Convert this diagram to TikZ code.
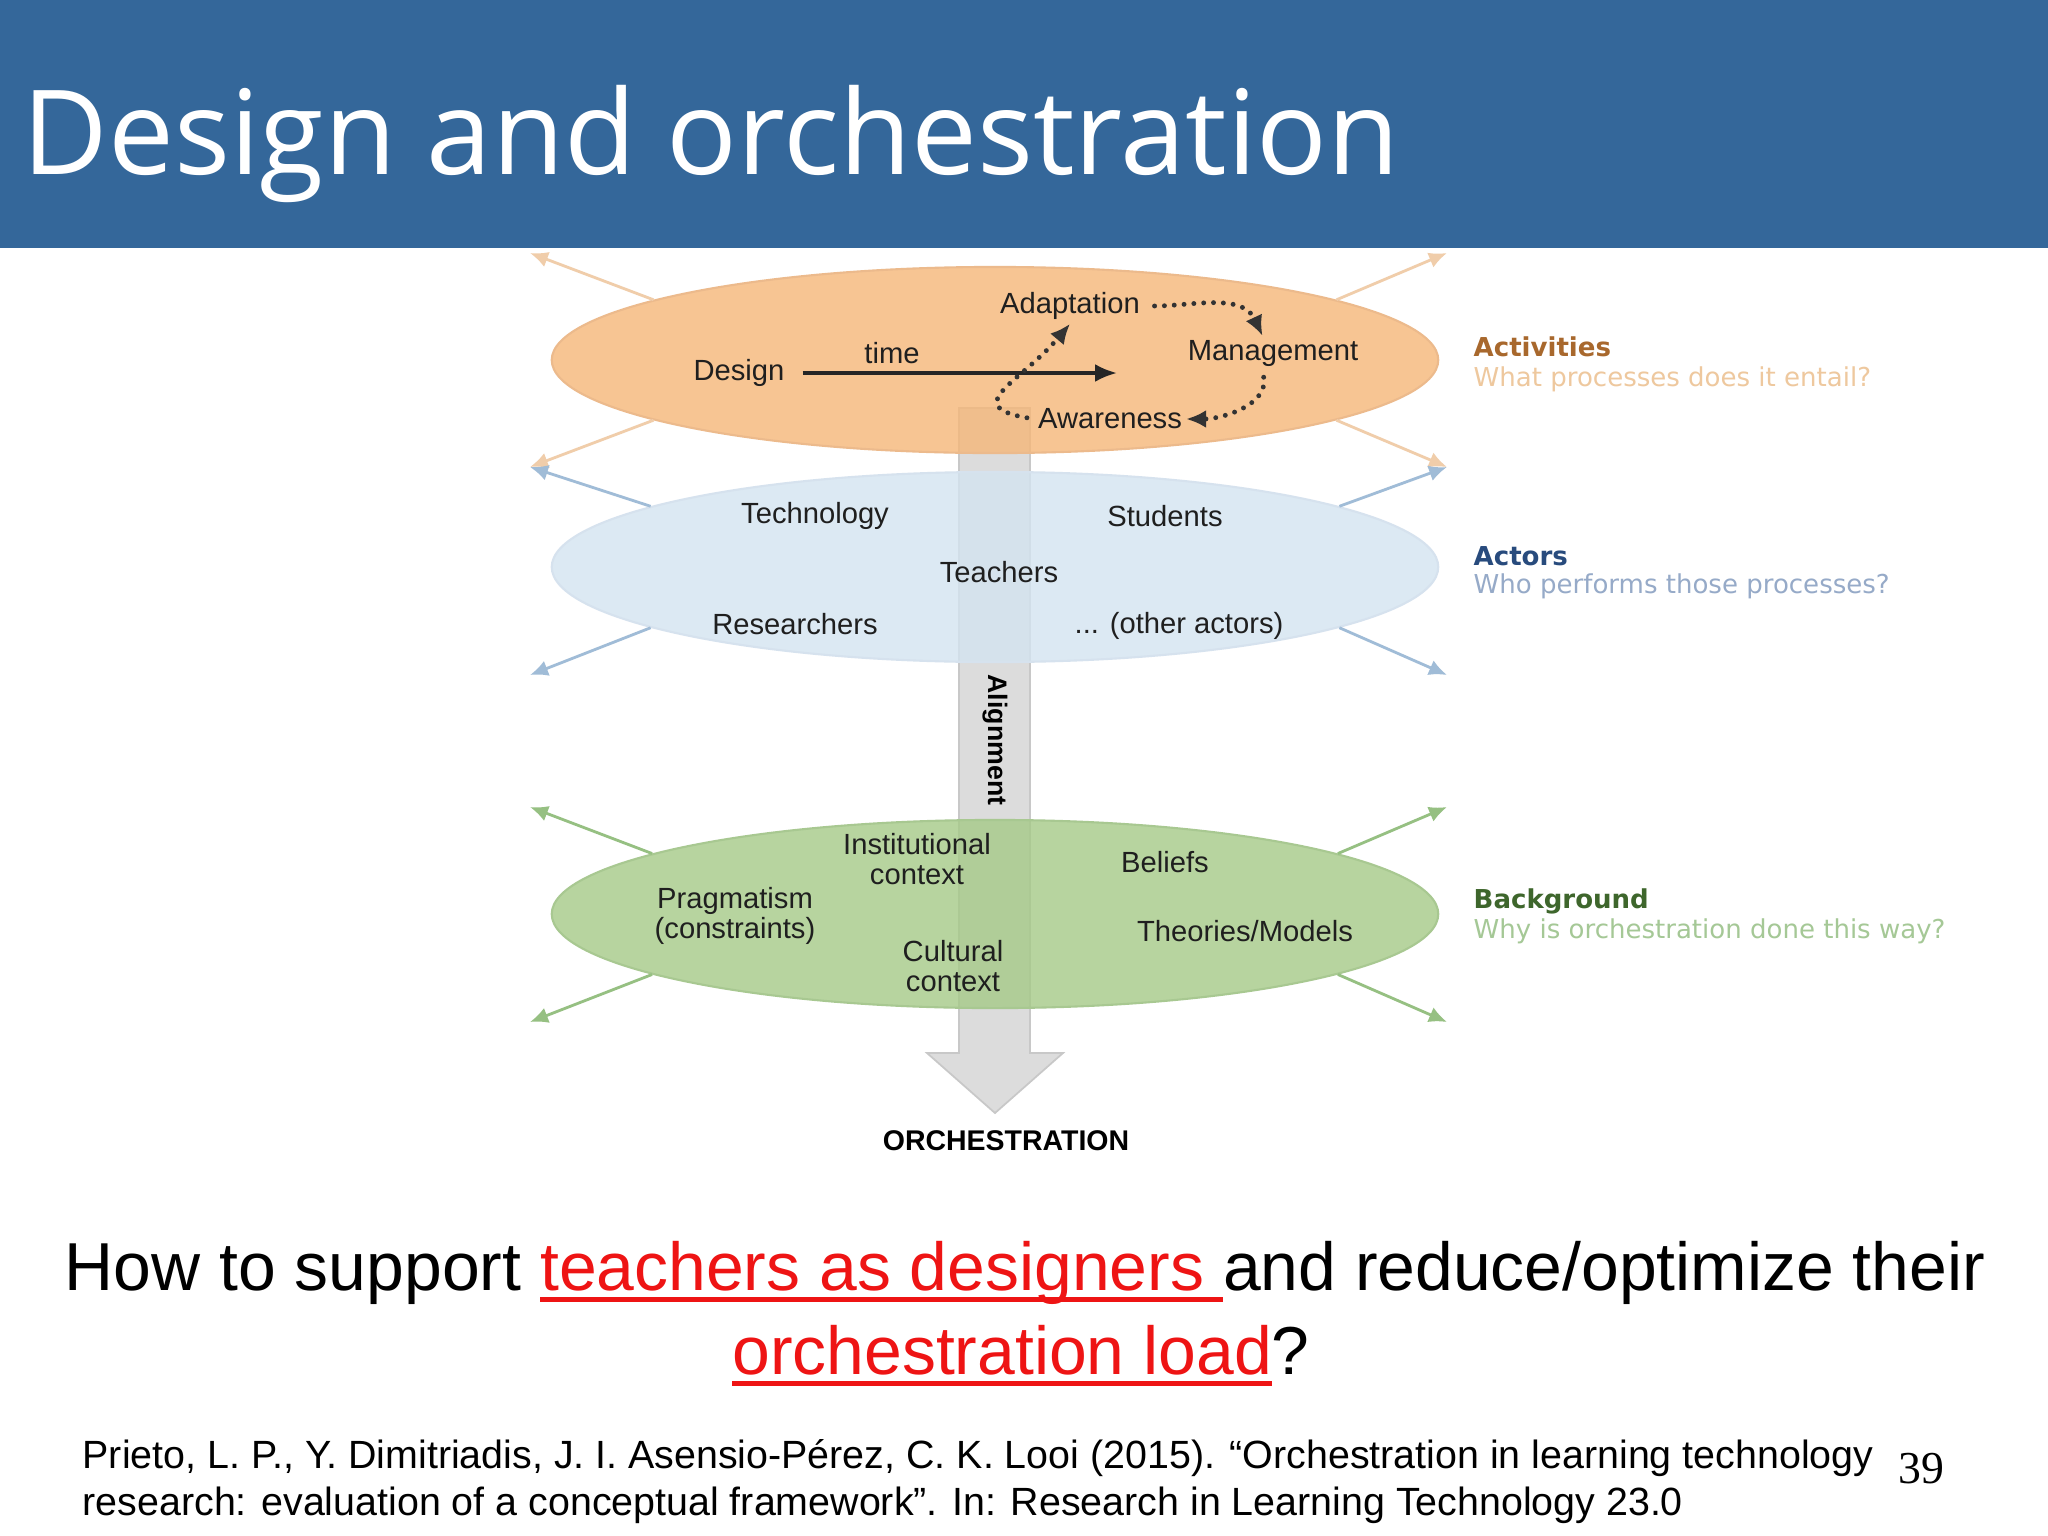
\documentclass[tikz,border=0pt]{standalone}
\usepackage{fontspec}
\setmainfont{Liberation Sans}
\newfontfamily\titlefont{Open Sans}
\newfontfamily\sidefont{DejaVu Sans}
\newfontfamily\numfont{Liberation Serif}
\usetikzlibrary{shapes.geometric, arrows.meta}
\definecolor{barblue}{RGB}{52,103,154}
\definecolor{actfill}{RGB}{245,183,120}
\definecolor{actline}{RGB}{236,186,140}
\definecolor{actarr}{RGB}{240,205,170}
\definecolor{actorfill}{RGB}{212,228,241}
\definecolor{actorline}{RGB}{214,226,238}
\definecolor{actorarr}{RGB}{160,188,215}
\definecolor{bgfill}{RGB}{165,202,136}
\definecolor{bgline}{RGB}{168,200,145}
\definecolor{bgarr}{RGB}{150,192,130}
\definecolor{shaft}{RGB}{220,220,220}
\definecolor{shaftline}{RGB}{200,200,200}
\definecolor{acthead}{RGB}{168,104,45}
\definecolor{actq}{RGB}{238,200,158}
\definecolor{actorhead}{RGB}{40,75,125}
\definecolor{actorq}{RGB}{150,170,200}
\definecolor{bghead}{RGB}{62,102,44}
\definecolor{bgq}{RGB}{165,200,150}
\definecolor{qred}{RGB}{238,20,20}
\newcommand\redul[1]{\setbox0=\hbox{#1}\rlap{\rule[-0.17em]{\wd0}{0.065em}}\box0}
\tikzstyle{layer} = [ellipse, minimum width=8.86cm, inner sep=0pt, line width=0.6pt, fill opacity=0.8]
\tikzstyle{item} = [font=\fontsize{8.3}{8.7}\selectfont, align=center, inner sep=1pt, text=black!88]
\tikzstyle{sidearrow} = [line width=0.8pt, -{Latex[length=1.8mm,width=1.6mm]}]
\tikzstyle{timearrow} = [line width=1pt, draw=black!85, -{Latex[length=2.2mm,width=1.8mm]}]
\tikzstyle{dotarrow} = [line width=1.4pt, draw=black!80, dash pattern=on 0pt off 2.8pt, line cap=round, -{Latex[length=2mm,width=1.8mm]}]
\tikzstyle{sidehead} = [font=\sidefont\bfseries\fontsize{7.4}{9}\selectfont, anchor=west, inner sep=0pt]
\tikzstyle{sideq} = [font=\sidefont\fontsize{7.4}{9}\selectfont, anchor=west, inner sep=0pt]

\begin{document}
\begin{tikzpicture}
[x=0.01cm, y=-0.01cm]

\useasboundingbox (0,0) rectangle (2048,1536);
\fill[white] (0,0) rectangle (2048,1536);
\fill[barblue] (0,0) rectangle (2048,248);
\node (title) [anchor=base west, inner sep=0pt, text=white, font=\titlefont\fontsize{33.4}{40}\selectfont] at (22,174) {Design and orchestration};

% alignment arrow, behind the layers
\filldraw[fill=shaft, draw=shaftline, line width=0.5pt] (959,408) -- (1030,408) -- (1030,1053) -- (1063,1053) -- (995,1113) -- (927,1053) -- (959,1053) -- cycle;

% the three layers
\node (activities) [layer, minimum height=1.86cm, fill=actfill, draw=actline] at (995,360) {};
\node (actors) [layer, minimum height=1.9cm, fill=actorfill, draw=actorline] at (995,567) {};
\node (background) [layer, minimum height=1.88cm, fill=bgfill, draw=bgline] at (995,914) {};

\foreach \lay/\col/\up/\down in {activities/actarr/253/467, actors/actorarr/467/675, background/bgarr/807/1022} {
  \coordinate (\lay-nw) at (530,\up);
  \coordinate (\lay-sw) at (530,\down);
  \coordinate (\lay-ne) at (1447,\up);
  \coordinate (\lay-se) at (1447,\down);
  \draw[sidearrow, \col] (\lay.170) -- (\lay-nw);
  \draw[sidearrow, \col] (\lay.190) -- (\lay-sw);
  \draw[sidearrow, \col] (\lay.10) -- (\lay-ne);
  \draw[sidearrow, \col] (\lay.-10) -- (\lay-se);
}

% activities
\node (adapt) [item] at (1070,306) {Adaptation};
\node (design) [item] at (739,373) {Design};
\node (time) [item] at (892,353) {time};
\node (manage) [item] at (1273,353) {Management};
\node (aware) [item] at (1110,419) {Awareness};
\coordinate (timeend) at (1117,373);
\draw[timearrow, shorten <=4pt] (design.east) -- (timeend);
\draw[dotarrow, shorten <=3pt] (adapt.east) to[out=0, in=115] ([xshift=-3pt]manage.north);
\draw[dotarrow, shorten <=2pt] ([xshift=-3pt]manage.south) to[out=-80, in=0] (aware.east);
\draw[dotarrow, shorten <=2pt] (aware.west) to[out=170, in=-130, looseness=1.9] (adapt.south);

% actors
\node (tech) [item] at (815,516) {Technology};
\node (stud) [item] at (1165,516) {Students};
\node (teach) [item] at (999,572) {Teachers};
\node (research) [item] at (795,624) {Researchers};
\node (other) [item] at (1179,626) {... (other actors)};

% background
\node (inst) [item] at (917,859) {Institutional\\context};
\node (beliefs) [item] at (1165,862) {Beliefs};
\node (prag) [item] at (735,916) {Pragmatism\\(constraints)};
\node (theories) [item] at (1245,931) {Theories/Models};
\node (cult) [item] at (953,966) {Cultural\\context};

\node (align) [rotate=-90, inner sep=0pt, font=\bfseries\fontsize{7.6}{9}\selectfont] at (995,740) {Alignment};
\node (orch) [inner sep=0pt, font=\bfseries\fontsize{8.1}{9}\selectfont] at (1006,1141) {ORCHESTRATION};

% side labels
\node (acthd) [sidehead, text=acthead] at (1473,347) {Activities};
\node (actqu) [sideq, text=actq] at (1473,379) {What processes does it entail?};
\node (actorhd) [sidehead, text=actorhead] at (1473,556) {Actors};
\node (actorqu) [sideq, text=actorq] at (1473,586) {Who performs those processes?};
\node (bghd) [sidehead, text=bghead] at (1473,901) {Background};
\node (bgqu) [sideq, text=bgq] at (1473,931) {Why is orchestration done this way?};

% question and reference
\node (q1) [anchor=base, inner sep=0pt, font=\fontsize{19.3}{23}\selectfont] at (1025,1290) {How to support \textcolor{qred}{\redul{teachers as designers\ }}and reduce/optimize their};
\node (q2) [anchor=base, inner sep=0pt, font=\fontsize{19.3}{23}\selectfont] at (1021,1374) {\textcolor{qred}{\redul{orchestration load}}?};
\node (ref1) [anchor=base west, inner sep=0pt, font=\fontsize{11.2}{14}\selectfont] at (82,1468) {Prieto, L. P., Y. Dimitriadis, J. I. Asensio-Pérez, C. K. Looi (2015). “Orchestration in learning technology};
\node (ref2) [anchor=base west, inner sep=0pt, font=\fontsize{11.2}{14}\selectfont] at (82,1515) {research: evaluation of a conceptual framework”. In: Research in Learning Technology 23.0};
\node (page) [inner sep=0pt, font=\numfont\fontsize{13}{15}\selectfont] at (1921,1469) {39};

\end{tikzpicture}
\end{document}
